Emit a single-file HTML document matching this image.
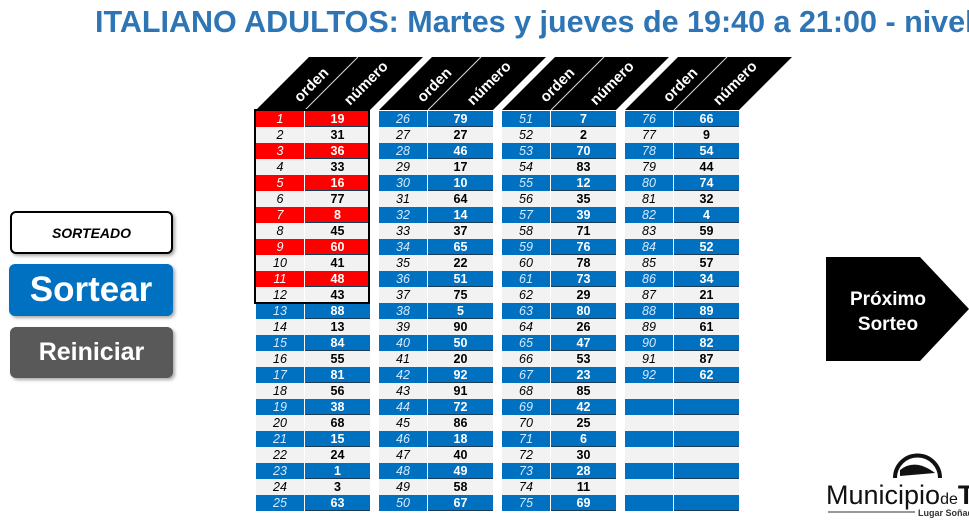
<!DOCTYPE html>
<html><head><meta charset="utf-8"><style>
body{margin:0;width:969px;height:531px;overflow:hidden;background:#fff;font-family:"Liberation Sans",sans-serif;position:relative}
.t{position:absolute;left:95px;top:5px;font-size:30.5px;font-weight:bold;color:#2e75b6;white-space:nowrap}
.c{position:absolute;height:16px;font-family:"Liberation Sans",sans-serif;font-size:12.5px;line-height:16px;text-align:center;box-sizing:border-box}
.o{font-style:italic}
.n{font-weight:bold}
.btn{position:absolute;box-sizing:border-box;border-radius:6px;text-align:center;font-weight:bold;box-shadow:2px 2px 3px #aaa}
</style></head><body>
<div class="t">ITALIANO ADULTOS: Martes y jueves de 19:40 a 21:00 - nivel</div>
<svg style="position:absolute;left:0;top:0" width="969" height="531" id="s"></svg>
<div class="btn" style="left:10px;top:211px;width:163px;height:43px;border:2px solid #000;background:#fff;font-size:14px;font-style:italic;line-height:40px">SORTEADO</div>
<div class="btn" style="left:9px;top:264px;width:164px;height:52px;background:#0070c0;color:#fff;font-size:35px;line-height:52px">Sortear</div>
<div class="btn" style="left:10px;top:327px;width:163px;height:51px;background:#595959;color:#fff;font-size:25px;line-height:51px">Reiniciar</div>
<div id="g"></div>
<div style="position:absolute;left:826px;top:480px;font-size:27px;color:#111;white-space:nowrap">Municipio<span style="font-size:16px">de</span><b>Tan</b></div>
<div style="position:absolute;left:918px;top:508px;font-size:9px;font-weight:bold;color:#333;white-space:nowrap">Lugar Soñad</div>
<script>
var d=[[19,31,36,33,16,77,8,45,60,41,48,43,88,13,84,55,81,56,38,68,15,24,1,3,63],
[79,27,46,17,10,64,14,37,65,22,51,75,5,90,50,20,92,91,72,86,18,40,49,58,67],
[7,2,70,83,12,35,39,71,76,78,73,29,80,26,47,53,23,85,42,25,6,30,28,11,69],
[66,9,54,44,74,32,4,59,52,57,34,21,89,61,82,87,62]];
var h='',sv='';
for(var g=0;g<4;g++){var x=256+g*123;
sv+='<polygon points="'+x+',110 '+(x+114)+',110 '+(x+167)+',57 '+(x+53)+',57" fill="#000"/>';
sv+='<line x1="'+(x+49)+'" y1="110" x2="'+(x+102)+'" y2="57" stroke="#ddd" stroke-width="1"/>';
sv+='<text transform="translate('+(x+44)+',103) rotate(-45)" fill="#fff" font-size="15" font-weight="bold" font-family="Liberation Sans">orden</text>';
sv+='<text transform="translate('+(x+94)+',106) rotate(-45)" fill="#fff" font-size="15" font-weight="bold" font-family="Liberation Sans">número</text>';
for(var r=0;r<25;r++){var y=111+r*16,n=g*25+r+1,odd=r%2==0,red=g==0&&r<12&&odd;
var bg=odd?(red?'#ff0000':'#0070c0'):'#f2f2f2',fg=odd?'#fff':'#000';
var v=d[g][r];var has=v!==undefined;
h+='<div class="c o" style="left:'+x+'px;top:'+y+'px;width:48px;background:'+bg+';color:'+(odd?(red?'#fff':'#d5eaff'):'#000')+'">'+(has?n:'')+'</div>';
h+='<div class="c n" style="left:'+(x+49)+'px;top:'+y+'px;width:65px;background:'+bg+';color:'+fg+';border-bottom:1px solid '+(odd?'#1a3a5a':'#f2f2f2')+'">'+(has?v:'')+'</div>';}}
h+='<div style="position:absolute;left:254px;top:109px;width:116px;height:195px;border:2px solid #000;box-sizing:border-box"></div>';
sv+='<polygon points="826,257 920,257 969,309 920,361 826,361" fill="#000"/>';
sv+='<text x="888" y="305" fill="#fff" font-size="19" font-weight="bold" text-anchor="middle" font-family="Liberation Sans">Próximo</text>';
sv+='<text x="888" y="330" fill="#fff" font-size="19" font-weight="bold" text-anchor="middle" font-family="Liberation Sans">Sorteo</text>';
sv+='<path d="M895,478 A22,22 0 1 1 940,478" fill="none" stroke="#111" stroke-width="4"/><path d="M900,470 Q915,458 935,473 L900,476Z" fill="#111"/>';
sv+='<line x1="828" y1="512" x2="915" y2="512" stroke="#333"/>';
document.getElementById('s').innerHTML=sv;document.getElementById('g').innerHTML=h;
</script>
</body></html>
